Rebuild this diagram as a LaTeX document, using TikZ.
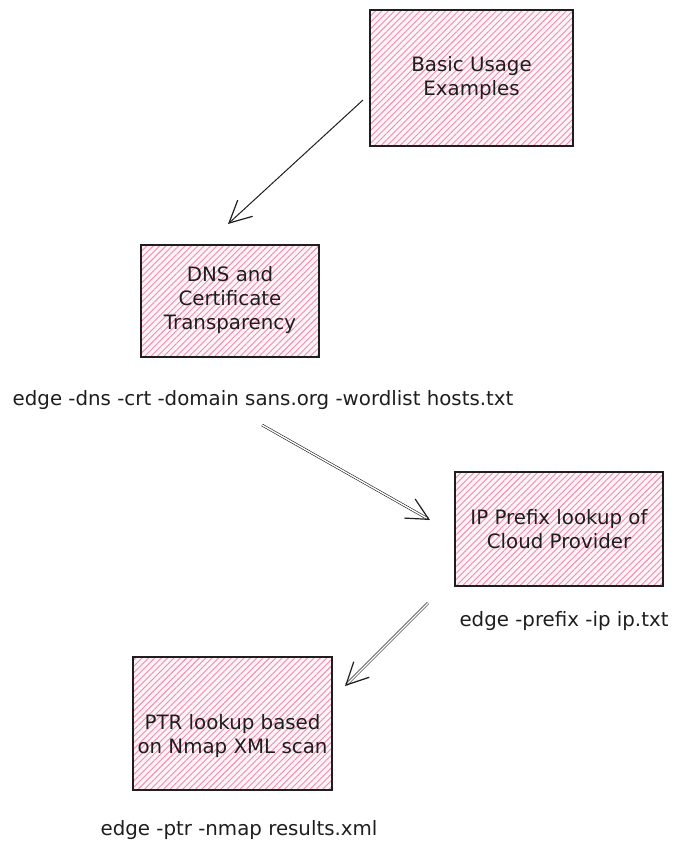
\documentclass[tikz,border=0pt]{standalone}
\usepackage{fontspec}
\setmainfont{DejaVu Sans}
\usetikzlibrary{arrows.meta,patterns.meta}
\definecolor{hatch}{HTML}{F08CAE}
\definecolor{hatchbg}{HTML}{FEF3F6}
\definecolor{ink}{HTML}{1E1E1E}
\tikzset{
  sketchbox/.style={draw=ink, line width=1.4pt, rectangle, inner sep=0pt,
    preaction={fill=hatchbg},
    pattern={Lines[angle=45,distance=4.5pt,line width=0.9pt]}, pattern color=hatch},
  lbl/.style={font=\fontsize{19.8}{24}\selectfont, text=ink, align=center, inner sep=0pt},
  cmd/.style={font=\fontsize{19.8}{24}\selectfont, text=ink, inner sep=0pt},
  conn/.style={draw=ink, line width=1pt, -{Straight Barb[length=22pt,width=22pt,line width=1.2pt]}},
  dconn/.style={draw=ink, line width=0.6pt, double=white, double distance=1.4pt,
    -{Straight Barb[length=22pt,width=22pt,line width=1.2pt]}}
}
\begin{document}
\begin{tikzpicture}[x=1pt,y=-1pt]
\useasboundingbox (0,0) rectangle (692,851);
% boxes
\node[sketchbox, minimum width=203pt, minimum height=136pt] (b1) at (471.5,78) {};
\node[sketchbox, minimum width=178pt, minimum height=112pt] (b2) at (230,301) {};
\node[sketchbox, minimum width=208pt, minimum height=114pt] (b3) at (559,529) {};
\node[sketchbox, minimum width=199pt, minimum height=133pt] (b4) at (232.5,723.5) {};
% box texts
\node[lbl] (t1) at (471.5,78) {Basic Usage\\Examples};
\node[lbl] (t2) at (230,300) {DNS and\\Certificate\\Transparency};
\node[lbl] (t3) at (559,529) {IP Prefix lookup of\\Cloud Provider};
\node[lbl] (t4) at (232.5,736) {PTR lookup based\\on Nmap XML scan};
% commands
\node[cmd] (c2) at (263,400) {edge -dns -crt -domain sans.org -wordlist hosts.txt};
\node[cmd] (c3) at (564,621) {edge -prefix -ip ip.txt};
\node[cmd] (c4) at (239,830) {edge -ptr -nmap results.xml};
% connector ends
\coordinate (a1s) at (363,100);
\coordinate (a1e) at (228,224);
\coordinate (a2s) at (262,425);
\coordinate (a2e) at (430,520);
\coordinate (a3s) at (428,603);
\coordinate (a3e) at (345,686);
\draw[conn] (a1s) -- (a1e);
\draw[dconn] (a2s) -- (a2e);
\draw[dconn] (a3s) -- (a3e);
\end{tikzpicture}
\end{document}
